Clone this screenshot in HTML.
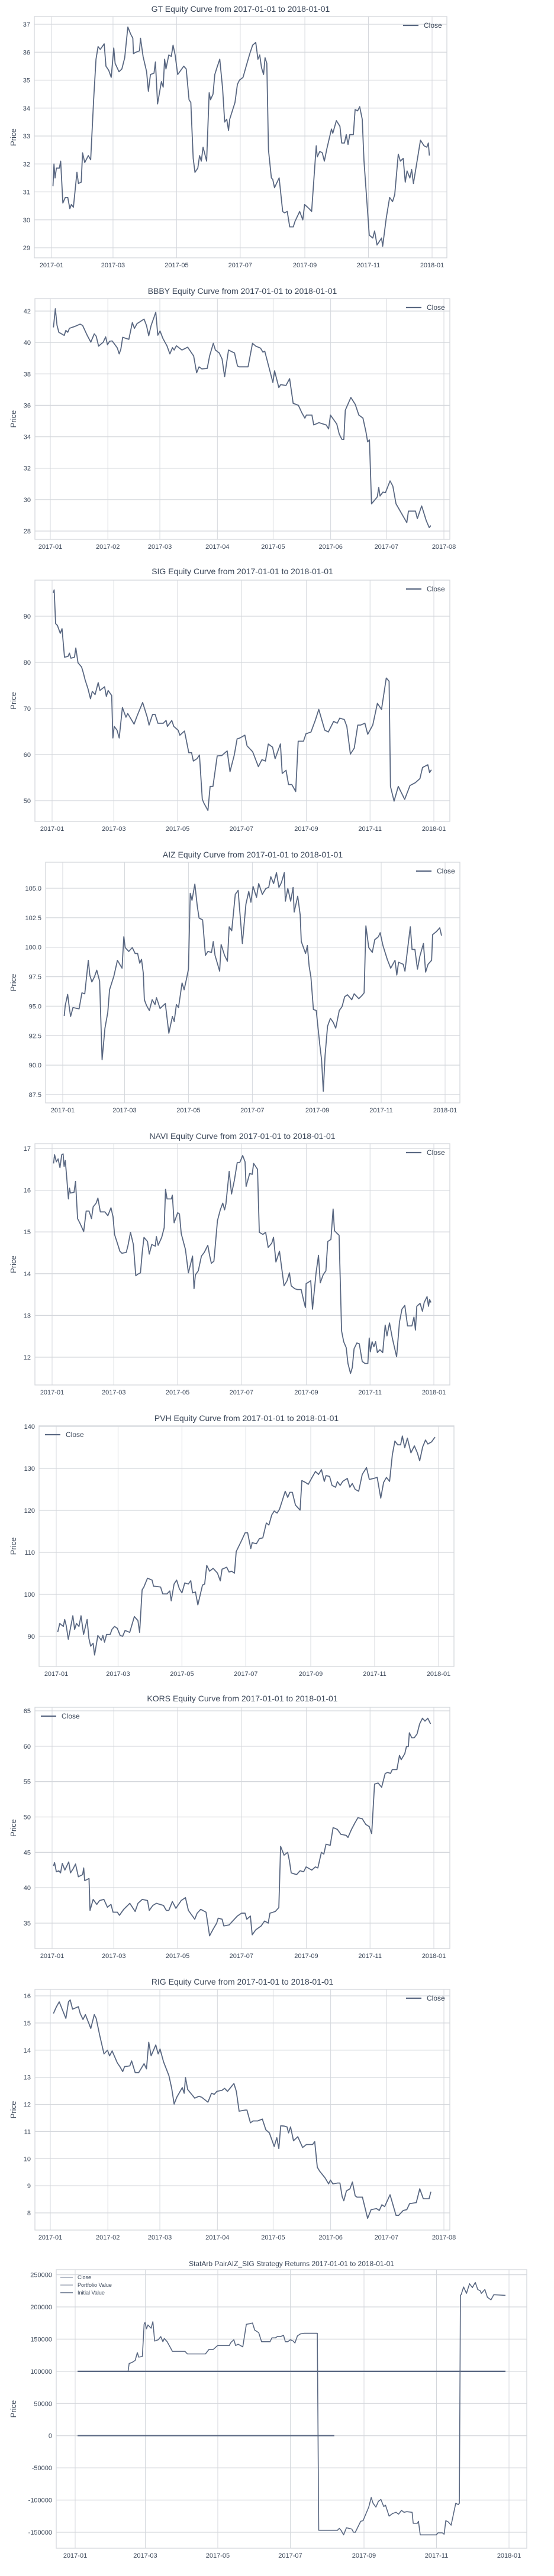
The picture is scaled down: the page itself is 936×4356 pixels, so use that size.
<!DOCTYPE html>
<html>
<head>
<meta charset="utf-8">
<style>
  html,body{margin:0;padding:0;background:#fff;}
  svg{display:block;font-family:"Liberation Sans",Arial,sans-serif;}
</style>
</head>
<body>
<svg id="fig" width="936" height="4356" viewBox="0 0 936 4356" xmlns="http://www.w3.org/2000/svg"></svg>
<script>
// ===== Data (day-of-year since 2017-01-01) =====
const gtDays=[1.4,2.4,3.4,4.7,7.5,8.8,10.9,13.2,15.6,17.6,19,21,24.4,25.8,28.5,29.8,31.9,35.3,37.6,40.4,42.7,44.7,46.8,50.5,52.2,54.9,57.3,59.7,61,64.7,67.5,70.2,73.2,75.9,78,78.6,81,84.4,85.4,87.8,91.2,92.9,94.9,98.3,99.7,101.7,105.4,107.1,108.5,109.8,112.5,114.9,116.6,118.6,121,124,126.8,129.2,131.9,133.6,135.9,137.6,140.3,142,143.7,145.4,148.8,151.2,152.5,154.9,156.6,158.7,161.4,164.1,166.1,168.1,169.8,170.9,176,178.3,180.3,183.7,187.1,190.2,192.9,195.9,198,199.7,201.4,203.4,204.8,206.5,208.1,210.9,212.2,213.9,218.3,221.7,223.4,226.1,228.5,231.9,233.6,238,241,242.7,247.1,249.5,253.9,254.9,257.3,259.7,261.7,264.1,268.5,269.8,273.2,276.6,278.3,281,282.7,284.4,286.1,289.5,291.2,293.6,295.6,298,299.7,304.8,308.2,309.9,312.2,316.6,317.6,321,324.3,327.1,329.2,332.6,334.6,337.3,339.3,341,343.7,345.4,347.1,353.9,357.3,360,361.4,362.4];
const gtClose=[31.2,32.0,31.5,31.85,31.85,32.1,30.6,30.8,30.8,30.4,30.55,30.45,31.7,31.3,31.35,32.4,32.05,32.3,32.15,34.3,35.75,36.2,36.1,36.3,35.5,35.35,35.1,36.15,35.6,35.3,35.4,35.8,36.9,36.65,36.5,35.95,36.0,36.05,36.5,35.85,35.3,34.6,35.2,35.25,35.65,34.15,34.95,34.75,35.75,35.4,35.9,35.85,36.25,35.9,35.2,35.35,35.5,35.4,34.3,34.2,32.2,31.7,31.85,32.3,32.1,32.6,32.1,34.55,34.3,34.5,35.2,35.45,35.75,34.7,33.5,33.6,33.2,33.6,34.2,34.85,35.0,35.1,35.55,35.95,36.25,36.35,35.75,35.9,35.45,35.2,35.8,35.6,32.5,31.5,31.45,31.15,31.5,30.3,30.25,30.3,29.75,29.75,29.95,30.3,30.0,30.55,30.4,30.3,32.65,32.25,32.45,32.4,32.1,32.55,33.25,33.1,33.55,33.35,32.75,32.75,33.05,32.7,33.05,33.05,33.95,33.9,34.05,33.6,32.1,29.45,29.35,29.6,29.1,29.35,29.05,30.05,30.8,30.65,30.9,32.35,32.1,32.2,31.35,31.75,31.5,31.8,31.3,32.85,32.65,32.6,32.75,32.3];

const bbbyDays=[1.7,2.7,3.6,4.6,7.5,8.4,9.4,10.3,13.2,16.1,17.4,19.9,21.8,23.7,24.7,26,28.5,29.8,30.8,31.9,33.3,34.6,36.1,37.1,38,39,42.3,44.2,45.3,46.7,50.5,51.8,53,54.3,56.8,57.9,59.1,60.6,62.9,64.4,65.8,66.7,67.9,70.9,74,77.2,78.8,80.1,81.6,84.5,85.8,87.8,88.9,91,92.5,93.9,95.4,96,99.2,100.8,101.7,106.5,108.9,110.7,113.2,114.5,115.5,119.9,120.8,123.1,124.1,126.9,128.9,130.8,133.6,135.6,137.1,137.9,140.9,141.9,144.7,148.6,149.9,150.9,154.3,155.6,157,158.1,158.9,161.9,164.2,166.2,168.4,170,170.9,171.9,173,176.1,176.9,177.6,179.2,180.5,183,184.5,186.2,192,192.9,196.7,197.7,200,202.5,204.1,205];
const bbbyClose=[40.96,42.15,41.1,40.65,40.45,40.77,40.65,40.9,41.02,41.17,41.08,40.45,40.02,40.55,40.4,39.77,40.02,40.36,39.85,40.08,40.1,39.9,39.65,39.27,39.58,40.33,40.2,41.27,40.9,41.2,41.49,41.08,40.43,41.08,41.92,40.46,40.73,40.27,39.77,39.27,39.67,39.52,39.79,39.52,39.7,39.14,38.07,38.45,38.32,38.35,39.14,39.95,39.52,39.33,38.95,37.82,39.08,39.52,39.33,38.51,38.45,38.45,39.95,39.77,39.64,39.39,39.45,37.45,38.2,37.13,37.32,37.26,37.7,36.13,36.0,35.5,35.19,35.38,35.38,34.75,34.9,34.75,34.5,35.38,34.81,34.18,33.84,33.83,35.69,36.5,36.07,35.38,35.19,34.31,33.68,33.8,29.73,30.17,30.77,30.23,30.48,30.44,31.19,30.86,29.73,28.54,29.27,29.27,28.79,29.6,28.66,28.22,28.35];

const sigDays=[1,2,3.4,5.1,7.8,9.5,10.5,11.9,15.3,16.6,18,21.4,22.7,24.8,28.2,29.9,31.6,34.3,36.7,38.4,41.1,44.1,45.8,50.2,51.9,53.6,57,58.1,59.4,62.1,64.2,67.2,70.6,72.3,78.4,81.5,86.6,91,92.7,96.1,98.5,101.2,106.3,109,110.3,114.4,116.4,120.5,122.2,126.6,130.7,133.4,135.1,138.5,140.9,143.6,145.3,149,151.1,153.8,157.9,162.3,167.4,170.1,174.2,176.9,179.6,184.3,186.4,191.8,197.2,200.6,204,206.7,210.8,213.2,218.3,220,223.7,226.1,229.2,232.9,235.3,240.4,242.7,247.5,251.6,255,260.7,264.1,269.2,272.6,275,279.4,281.8,285.2,288.9,292.3,295,299.1,301.8,306.6,311,315,319.5,322.2,323.5,327,331,337.1,342.2,347.3,351.7,354.2,359.2,360.9,362.6];
const sigClose=[95.05,95.7,88.4,88,86.3,87.3,84.6,81.1,81.3,82,80.9,81.1,83.1,79.9,79,77.7,76.2,74.3,72.1,73.7,73,75.6,73.9,74.7,72.6,73.9,72.8,63.6,66.1,65.3,63.6,70.2,68.1,68.9,66.6,68.5,71.3,68.1,66.4,68.7,68.7,66.8,66.8,67.4,66.1,67.4,66.1,65.3,64.2,65.1,60.4,60.4,58.6,59.1,59.9,50.3,49.4,47.9,53.1,53.1,59.7,59.8,60.8,56.3,59.9,63.4,63.6,64.2,61.9,60.6,57.4,58.9,58.6,62.3,61.6,59.1,62.3,55.9,56.6,53.5,53.5,52,62.9,62.9,64.5,64.9,67.4,69.8,65.3,64.9,67.2,66.8,67.9,67.6,66.1,60.1,61.4,66.4,66.4,66.8,64.4,66.4,71.1,69.8,76.6,75.9,53.1,49.9,53.1,50.3,53.3,53.9,54.8,57.2,57.8,56.1,56.7];

const aizDays=[1.4,2.4,4.7,6.4,7.5,9.8,14.2,15.6,18.3,21,24.4,25.8,27.8,30.2,32.5,35.2,37.6,40.3,43,44.7,48.8,52.2,56.6,58.3,59.6,63,66.4,69.1,71.5,73.5,75.2,76.9,77.9,80,82.7,85.4,88.1,89.5,92.9,97.9,101.3,104.7,106.4,108.5,110.5,113.9,115.9,118.3,120,121.7,123.4,126.1,128.4,130.1,133.5,136.2,138.6,142,143.7,145.4,149.8,151.2,154.5,157.2,158.9,161.3,164.7,167.4,171.5,174.9,177.6,179.6,181.7,185,187.1,190.5,193.9,196.6,198.6,201.3,204,206.4,208.8,211.5,212.5,214.9,217.6,219.9,220.9,224.3,226.7,227.7,231.8,233.5,235.2,236.9,239.3,242,245.4,247.1,248.7,250.4,252.8,255.5,258.2,260.6,264,266.7,269.1,271.8,275.9,278.2,282.6,285.4,287.7,289.4,292.1,295.5,297.9,301.3,303,305.7,309.8,313.1,317.2,318.9,320.6,325,326.7,331.8,333.5,336.2,338.6,340.9,344.3,346.4,348.7,352.1,353.1,356.5,359.9,361.6];
const aizClose=[94.17,95.05,96,94.8,94.13,94.88,94.8,94.77,96.13,96.05,98.89,97.64,97.05,97.47,98.05,97.13,90.46,93.13,94.47,96.39,97.55,98.89,98.22,100.89,99.97,99.64,99.97,99.47,99.47,98.64,98.97,97.8,95.55,95.05,94.63,95.55,95.13,95.72,94.8,95.22,92.71,94.13,93.71,95.13,94.88,96.97,96.39,97.39,98.14,104.57,103.98,105.35,103.48,102.48,102.31,99.31,99.64,99.56,100.48,99.31,97.97,100.23,99.31,98.81,101.73,101.39,104.48,104.82,100.31,103.65,104.73,103.81,105.15,104.23,105.4,104.48,104.98,105.07,105.98,105.4,106.32,105.07,105.48,106.32,103.9,104.98,103.9,105.07,102.98,104.32,102.73,100.48,99.47,100.14,98.39,97.47,94.72,94.63,91.72,90.46,87.79,90.8,93.3,93.97,93.63,93.13,94.63,94.97,95.8,95.97,95.55,96.05,95.64,95.88,96.13,101.81,99.97,99.56,100.64,100.89,101.23,100.14,98.97,98.22,98.89,97.64,98.72,98.55,97.97,101.73,99.81,99.81,98.14,99.22,100.31,97.89,98.55,98.89,101.06,101.31,101.64,100.98];

const naviDays=[1.4,2.4,4.1,5.8,7.5,9.2,10.5,11.5,12.6,14.2,15.6,16.6,17.6,21,22.4,24.4,26.8,30.2,32.6,35.3,37.7,39.3,42.1,43.8,46.1,50.5,53.3,56.3,58.3,59.7,62.4,64.8,66.8,70.9,72.6,75,77.7,80,82.1,84.5,86.2,87.9,91.2,92.9,95.3,98.7,99.7,101.4,104.8,107.2,108.5,109.9,114,115,116.7,120.1,121.8,123.5,127.5,130.3,134.3,135.7,137,139.8,142.8,145.5,148.9,150.6,152.3,154.7,158.1,160.8,163.2,164.9,166.2,169.3,171.6,174.3,177,179.4,182.2,184.5,185.5,188.9,191.3,192.7,196.4,198.1,201.5,204.2,206.6,210,211.7,214,217.4,221.8,224.6,226.9,228.6,232,234.7,238.1,240.5,242.2,242.9,247.3,249,252.4,254.7,256.4,259.1,261.8,263.6,266.6,268.7,270,272.7,274.4,276.8,278.8,281.2,282.9,285.3,287,288.7,291.4,293.7,296.5,299.2,301.9,303.2,304.3,306,307.7,309.3,311,313.4,316.1,318.5,320.2,322.6,325.3,329.4,332.1,334.5,337.2,339.9,344,346,347.4,348.7,351.8,354.1,355.8,358.5,359.9,360.9,362.3];
const naviClose=[16.64,16.85,16.68,16.75,16.54,16.85,16.87,16.57,16.71,16.24,15.79,16.05,15.93,15.95,16.21,15.32,15.2,15.01,15.5,15.5,15.32,15.6,15.69,15.81,15.48,15.48,15.39,15.58,15.36,14.94,14.73,14.54,14.49,14.51,14.68,14.99,14.7,13.95,13.99,14.02,14.51,14.87,14.77,14.47,14.7,14.66,14.89,14.68,14.87,15.1,16.02,15.79,15.79,15.88,15.22,15.46,15.43,14.96,14.58,14.02,14.42,13.64,13.97,14.07,14.42,14.51,14.68,14.44,14.25,14.3,15.27,15.53,15.69,15.53,15.67,16.45,15.91,16.24,16.66,16.66,16.83,16.68,16.09,16.4,16.38,16.64,16.5,14.99,14.94,14.99,14.63,14.73,14.87,14.28,14.54,13.71,13.83,14.02,13.71,13.64,13.62,13.62,13.36,13.19,13.76,13.83,13.15,14.02,14.44,13.78,13.97,14.07,14.77,14.82,15.55,15.03,14.96,14.92,12.63,12.37,12.23,11.85,11.61,11.75,12.2,12.34,12.32,11.9,11.85,11.85,12.46,12.13,12.37,12.25,12.37,12.11,12.18,12.11,12.77,12.51,12.82,12.46,12.01,12.84,13.15,13.24,12.75,12.75,12.96,12.65,13.22,13.29,13.1,13.31,13.45,13.22,13.38,13.31];

const pvhDays=[1.4,3.4,6.8,8.1,9.5,11.5,15.9,17.6,19.3,21.7,23.7,26.1,29.5,31.2,32.9,35.2,36.6,39.7,43.1,44.5,46.1,48.1,51.5,53.2,55.6,58.3,61,63.4,65.7,70.2,74.6,78,79.6,82,83.7,87.1,91.5,92.9,99.6,101.7,105.7,108.4,109.8,112.5,114.9,117.6,120,122.7,126.1,128.4,130.1,132.9,135.2,139.6,141.7,143.7,146.4,149.8,153.9,156.6,158.3,162.7,165,167.4,170.1,171.8,176.9,180.3,182.7,185.7,187.1,191.1,193.9,197.2,200.6,203,205.7,208.1,210.8,213.2,215.9,218.6,221,223,225.4,228.4,232.8,234.5,237.9,240.6,244.7,247.4,250.4,253.2,255.9,257.6,261,263.3,266.7,268.4,271.1,273.5,277.9,280.3,282.6,285.4,288.7,292.1,296.2,298.9,303,306.4,309.8,312.5,315.2,318.2,320.9,323.3,326,328.7,330.4,332.7,335.2,338.6,341.9,344.7,347,349.8,352.5,354.8,358.2,361.6];
const pvhClose=[91.0,93.05,92.35,94.0,92.6,89.3,94.9,91.65,93.05,92.35,94.9,90.45,94.0,89.5,87.65,88.35,85.55,90.2,89.05,90.2,88.6,90.45,90.45,91.65,92.35,91.9,90.2,90.0,91.4,90.95,94.7,93.75,90.95,101.05,101.75,103.85,103.4,101.95,101.75,100.1,100.1,100.8,98.45,102.45,103.4,101.3,100.35,102.7,102.45,103.25,100.35,100.55,97.5,102.2,102.45,106.9,105.5,106.2,105.05,103.2,106.0,106.45,105.3,105.5,105.05,110.2,112.8,114.65,114.65,110.9,112.3,112.05,113.25,113.45,117.0,116.5,118.9,119.85,119.35,120.3,122.4,124.55,123.1,124.3,124.3,121.25,120.05,127.1,126.65,126.2,128.05,129.25,128.55,129.7,126.9,128.3,128.05,125.95,125.5,126.85,125.95,126.9,127.6,125.5,126.4,125.0,124.55,128.55,130.2,127.35,127.6,127.85,122.9,126.65,127.85,126.9,133.25,136.5,135.6,135.6,137.7,134.9,137.2,133.7,135.35,133.7,131.8,135.1,136.75,135.8,136.3,137.45];

const korsDays=[1.4,2.4,4.1,6.4,8.1,9.8,12.2,15.9,17.6,20,22.4,25.1,29.2,30.2,31.2,35.3,36.3,39.3,42.7,45.5,49.5,52.9,56.3,58.3,62.4,64.4,68.5,74.3,79.4,82.1,86.2,91.2,92.9,96.3,99.7,106.5,109.2,111.6,115,118.4,123.5,127.5,130.3,136.4,138.7,142.1,147.2,150.6,154,157.4,158.8,162.5,164.2,169.3,172.7,177.1,181.1,184.5,186.2,189.6,191.3,194.7,199.8,203.2,206.6,208.3,213.4,216.8,218.5,221.8,225.2,226.9,228.6,233.7,237.1,240.5,242.9,248.3,251.7,254.1,257.5,259.8,261.9,265.9,268.7,272.7,276.1,281.2,282.9,286.3,289.7,292.4,296.5,299.9,303.2,305.6,308.3,311.7,315.1,318.5,320.9,323.6,325.3,329.7,332.1,333.8,337.2,338.8,340.6,341.6,343.9,346.3,349,351.4,354.1,356.5,359.2,361.9];
const korsClose=[43.1,43.55,42.25,42.4,42.1,43.45,42.5,43.65,42.1,42.65,43.35,41.55,41.85,42.8,41.0,41.3,36.8,38.35,37.65,38.2,38.35,37.25,37.65,36.55,36.55,36.1,36.95,37.8,36.65,37.8,38.35,38.2,36.8,37.5,37.8,37.5,36.8,36.8,38.05,37.1,38.2,38.6,36.8,35.55,36.4,36.95,36.55,33.2,34.15,35.0,35.7,35.55,34.6,34.75,35.3,36.0,36.4,36.4,35.55,36.0,33.35,34.05,34.6,35.3,35.0,36.4,36.65,37.2,45.85,44.6,45.0,43.8,42.1,41.85,42.4,42.25,42.95,42.5,42.95,42.8,45.0,44.75,46.15,46.0,48.5,48.25,47.55,47.4,47.1,48.25,49.2,49.9,49.75,48.95,48.65,47.65,54.65,54.8,54.2,56.15,56.3,56.15,56.7,56.7,58.7,58.1,58.95,59.95,59.95,61.9,61.2,61.2,61.75,63.15,63.95,63.55,63.95,63.15];

const rigDays=[1.7,3.3,4.8,6.5,8.4,9.8,10.7,12,15.1,16.1,17.6,18.9,21.8,23.7,24.7,26.6,28.9,30.8,31.9,33.3,36.1,37.5,39,40,42.8,43.8,45.7,47.6,50.5,51.8,53,54.3,56.8,58.1,59.1,61,63.9,65.4,66.7,68.1,71.1,72.1,72.8,74,77.8,80.1,81.6,84.9,86.8,88.3,89.7,92.5,93.9,95.4,98.9,100.2,101.7,105,105.9,107.8,109.2,111.7,114.2,116.1,118,120.6,122,123.1,124.1,126,127.5,128.3,129.4,131,133.3,135.9,137.9,141.3,142.4,143.8,145.1,148,149.9,150.9,152.2,154.7,156,157.2,158.1,159.5,161.4,162.7,164.2,165.2,168.1,170.9,172.8,175.7,177.2,178.6,180.1,183,186.2,187.6,190.1,192,193.5,197.1,199,200.9,204,205];
const rigClose=[15.35,15.6,15.78,15.49,15.17,15.78,15.85,15.51,15.6,15.35,15.13,15.31,14.8,15.31,15.17,14.55,13.86,14.0,13.79,13.97,13.53,13.39,13.21,13.39,13.42,13.6,13.17,13.17,13.5,13.31,14.29,13.79,14.19,13.86,14.04,13.57,13.06,12.59,12.01,12.26,12.62,12.41,12.99,12.55,12.23,12.3,12.26,12.08,12.41,12.37,12.48,12.52,12.59,12.48,12.77,12.48,11.75,11.79,11.79,11.32,11.39,11.39,11.46,11.06,10.95,10.45,10.77,10.37,11.21,11.2,11.17,10.95,11.17,10.66,10.81,10.41,10.52,10.52,10.63,9.68,9.54,9.29,9.07,9.21,9.07,9.1,9.1,8.6,8.45,8.81,8.89,9.14,8.63,8.58,8.58,7.8,8.12,8.16,8.09,8.3,8.23,8.67,7.91,7.91,8.09,8.12,8.34,8.38,8.89,8.52,8.52,8.78];

const stratCloseDays=[2,218];
const stratCloseVals=[0,0];
const stratInitDays=[2,362];
const stratInitVals=[100000,100000];
const stratPortDays=[2.1,44.5,45.4,48.1,50.5,52.3,53.5,56.5,58,58.8,60,61.2,63.9,65.4,66.9,69.9,72,73.8,75,77.4,81.8,92.3,94.4,109.6,112.6,116.2,119.8,129.6,131.1,133.5,135,137.1,141,144,147,149.2,151.1,154.4,156.8,164,165.5,168.5,170,172.9,175.3,176.8,178.8,181,183.4,184.9,187,189.4,192.4,203.7,204.9,220.7,222.2,223.7,225.8,228.2,232.7,234.2,235.7,240.2,242.2,247,249.1,250.6,253,255.1,257.2,259.6,261.1,264.1,267,270,272.1,274.5,276.6,279,283.5,284.4,287.9,288.8,290.3,303.8,305.3,308.9,310.4,311.8,313.9,316.3,320.2,322.3,323.2,324.1,324.7,326.8,329.2,331.8,334.2,336.6,338.7,340.8,341.7,344.7,346.8,349.8,352.2,362];
const stratPortVals=[100000,100000,112000,114000,117000,129000,122000,123000,173000,176000,166000,172000,167000,177000,147000,149000,154000,146000,151000,146000,131000,131000,127000,127000,134000,134000,140000,140000,145000,149000,140000,142000,138000,173000,174000,175000,164000,160000,146000,146000,152000,152000,154000,154000,156000,146000,146000,149000,147000,144000,155000,158000,159000,159000,-147000,-147000,-144000,-147000,-154000,-143000,-145000,-150000,-150000,-133000,-132000,-111000,-96000,-105000,-111000,-102000,-99000,-110000,-108000,-125000,-121000,-119000,-122000,-116000,-119000,-118000,-119000,-136000,-136000,-133000,-154000,-154000,-151000,-151000,-153000,-132000,-134000,-139000,-105000,-107000,-105000,218000,219000,231000,221000,236000,230000,238000,227000,225000,221000,227000,215000,211000,219000,218000];

// tick label arrays
const yearTickDays=[0,59,120,181,243,304,365];
const yearTickLabels=["2017-01","2017-03","2017-05","2017-07","2017-09","2017-11","2018-01"];
const halfTickDays=[0,31,59,90,120,151,181,212];
const halfTickLabels=["2017-01","2017-02","2017-03","2017-04","2017-05","2017-06","2017-07","2017-08"];

// ===== Rendering =====
const NS="http://www.w3.org/2000/svg";
const svg=document.getElementById('fig');
const LINE="#5a6882", GRID="#d4d7dc", TXT="#3a4658";
function mk(tag,attrs,parent){const e=document.createElementNS(NS,tag);for(const k in attrs)e.setAttribute(k,attrs[k]);(parent||svg).appendChild(e);return e;}

const charts=[
 {key:'gt',title:'GT Equity Curve from 2017-01-01 to 2018-01-01',ty:15,top:28,bottom:436,left:58,right:755,xa:87,xb:730,span:365,ref:[37,41,29,419],yt:[29,37,1],dec:0,leg:'right',series:[[gtDays,gtClose,'Close']]},
 {key:'bbby',title:'BBBY Equity Curve from 2017-01-01 to 2018-01-01',ty:492,top:505,bottom:912,left:59,right:760,xa:85,xb:750,span:212,ref:[42,526,28,898],yt:[28,42,2],dec:0,leg:'right',series:[[bbbyDays,bbbyClose,'Close']]},
 {key:'sig',title:'SIG Equity Curve from 2017-01-01 to 2018-01-01',ty:966,top:981,bottom:1389,left:59,right:760,xa:88,xb:733,span:365,ref:[90,1042,50,1354],yt:[50,90,10],dec:0,leg:'right',series:[[sigDays,sigClose,'Close']]},
 {key:'aiz',title:'AIZ Equity Curve from 2017-01-01 to 2018-01-01',ty:1445,top:1458,bottom:1865,left:77,right:777,xa:106,xb:752,span:365,ref:[105,1502,87.5,1851],yt:[87.5,105,2.5],dec:1,leg:'right',series:[[aizDays,aizClose,'Close']]},
 {key:'navi',title:'NAVI Equity Curve from 2017-01-01 to 2018-01-01',ty:1921,top:1934,bottom:2342,left:59,right:760,xa:88,xb:733,span:365,ref:[17,1942,12,2295],yt:[12,17,1],dec:0,leg:'right',series:[[naviDays,naviClose,'Close']]},
 {key:'pvh',title:'PVH Equity Curve from 2017-01-01 to 2018-01-01',ty:2398,top:2411,bottom:2818,left:66,right:767,xa:95,xb:741,span:365,ref:[140,2412,90,2767],yt:[90,140,10],dec:0,leg:'left',series:[[pvhDays,pvhClose,'Close']]},
 {key:'kors',title:'KORS Equity Curve from 2017-01-01 to 2018-01-01',ty:2872,top:2887,bottom:3295,left:59,right:760,xa:88,xb:733,span:365,ref:[65,2893,35,3252],yt:[35,65,5],dec:0,leg:'left',series:[[korsDays,korsClose,'Close']]},
 {key:'rig',title:'RIG Equity Curve from 2017-01-01 to 2018-01-01',ty:3351,top:3364,bottom:3771,left:59,right:760,xa:85,xb:750,span:212,ref:[16,3375,8,3742],yt:[8,16,1],dec:0,leg:'right',series:[[rigDays,rigClose,'Close']]},
 {key:'statarb',title:'StatArb PairAIZ_SIG Strategy Returns 2017-01-01 to 2018-01-01',ty:3827,tfs:12,top:3838,bottom:4309,left:95,right:890,xa:127,xb:860,span:365,ref:[200000,3901,-150000,4282],yt:[-150000,250000,50000],dec:0,leg:'multi',
  series:[[stratCloseDays,stratCloseVals,'Close',2.2],[stratPortDays,stratPortVals,'Portfolio Value',1.6],[stratInitDays,stratInitVals,'Initial Value',2.2]]}
];

charts.forEach(c=>{
  const g=mk('g',{});
  
  
  const yMap=v=>c.ref[1]+(v-c.ref[0])*(c.ref[3]-c.ref[1])/(c.ref[2]-c.ref[0]);
  const xMap=d=>c.xa+d/c.span*(c.xb-c.xa);
  const fr=mk('rect',{x:c.left,y:c.top,width:c.right-c.left,height:c.bottom-c.top,fill:'#fff',stroke:GRID,'stroke-width':1.3},g);
  
  
  const td=c.span===365?yearTickDays:halfTickDays, tl=c.span===365?yearTickLabels:halfTickLabels;
  td.forEach((d,i)=>{
    const x=xMap(d);
    const gl=mk('line',{x1:x,x2:x,y1:c.top,y2:c.bottom,stroke:GRID,'stroke-width':1},g);
    
    
    const t=mk('text',{x:x,y:c.bottom+16,'text-anchor':'middle','font-size':11,fill:TXT},g);
    t.textContent=tl[i];
    
    
  });
  for(let v=c.yt[0];v<=c.yt[1]+1e-9;v+=c.yt[2]){
    const y=yMap(v);
    const gl=mk('line',{x1:c.left,x2:c.right,y1:y,y2:y,stroke:GRID,'stroke-width':1.3},g);
    
    
    const t=mk('text',{x:c.left-7,y:y+4,'text-anchor':'end','font-size':11,fill:TXT},g);
    t.textContent=c.dec?v.toFixed(c.dec):String(Math.round(v));
    
    
  }
  const tt=mk('text',{x:(c.left+c.right)/2,y:c.ty+5,'text-anchor':'middle','font-size':c.tfs||14,fill:TXT},g);
  tt.textContent=c.title;
  
  
  const ym=(c.top+c.bottom)/2;
  const yl=mk('text',{x:27,y:ym,'text-anchor':'middle','font-size':13,fill:TXT,transform:'rotate(-90 27 '+ym+')'},g);
  yl.textContent='Price';
  
  
  c.series.forEach(s=>{
    const D=s[0],V=s[1],n=Math.min(D.length,V.length);
    let p='';
    for(let i=0;i<n;i++)p+=(i?'L':'M')+xMap(D[i]).toFixed(1)+' '+yMap(V[i]).toFixed(1);
    const path=mk('path',{d:p,fill:'none',stroke:LINE,'stroke-width':s[3]||1.8,'stroke-linejoin':'round'},g);
    
    
  });
  if(c.leg==='multi'){
    c.series.forEach((s,i)=>{
      const y=3851+i*13;
      const ln=mk('line',{x1:102,x2:123,y1:y,y2:y,stroke:LINE,'stroke-width':i<2?1.2:1.6,opacity:i<2?0.7:1},g);
      
      
      const t=mk('text',{x:131,y:y+3,'font-size':9,fill:TXT},g);
      t.textContent=s[2];
      
      
    });
  } else {
    const y=c.top+15;
    const lx=c.leg==='right'?c.right-74:c.left+10;
    const ln=mk('line',{x1:lx,x2:lx+26,y1:y,y2:y,stroke:LINE,'stroke-width':2.2},g);
    
    
    const t=mk('text',{x:lx+35,y:y+4,'font-size':12,fill:TXT},g);
    t.textContent='Close';
    
    
  }
});
</script>
</body>
</html>
